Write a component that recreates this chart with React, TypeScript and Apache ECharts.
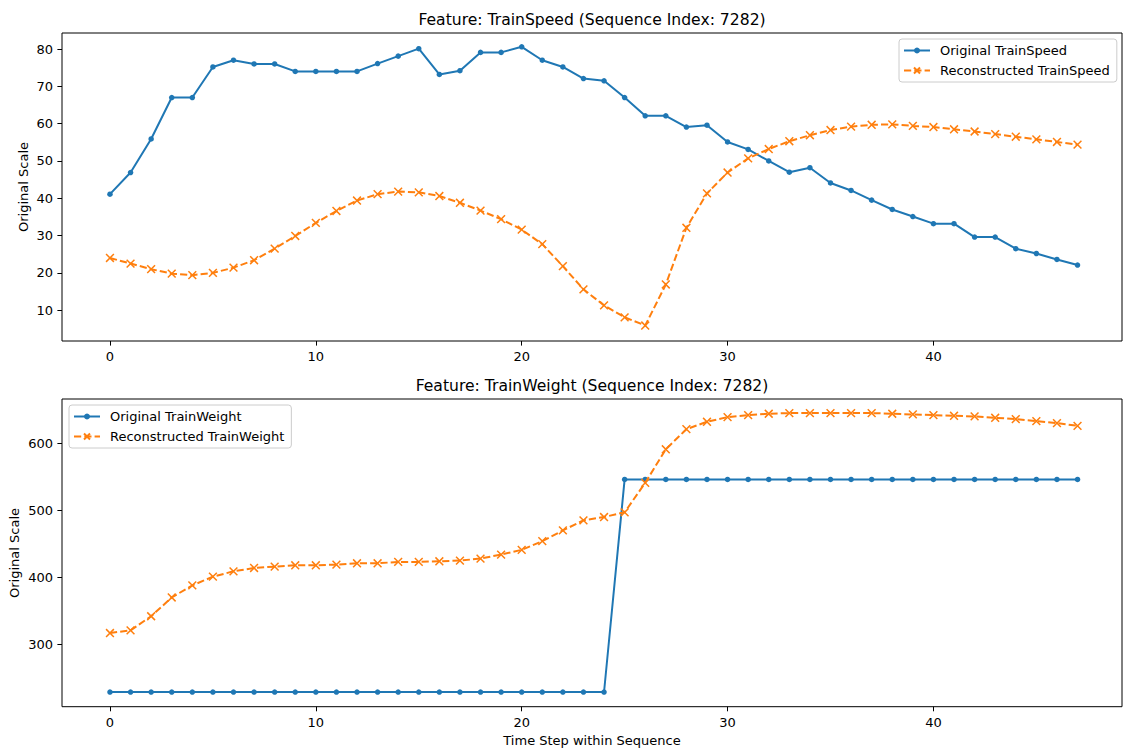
import React, { useEffect, useRef } from "react";
import * as echarts from "echarts";

const BLUE = "#1f77b4";
const ORANGE = "#ff7f0e";
const FONT = "DejaVu Sans";

const timeSteps = [
  0, 1, 2, 3, 4, 5, 6, 7, 8, 9, 10, 11, 12, 13, 14, 15, 16, 17, 18, 19, 20, 21, 22, 23,
  24, 25, 26, 27, 28, 29, 30, 31, 32, 33, 34, 35, 36, 37, 38, 39, 40, 41, 42, 43, 44, 45, 46, 47,
];

const speedOriginal = [
  41.1, 46.9, 55.9, 67, 67, 75.2, 77, 76, 76, 74,
  74, 74, 74, 76.1, 78.1, 80.1, 73.2, 74.2, 79.1, 79.1,
  80.6, 77, 75.2, 72.1, 71.5, 67, 62.1, 62.1, 59.1, 59.6,
  55.1, 53.1, 50, 47, 48.2, 44.1, 42.1, 39.5, 37, 35.1,
  33.2, 33.2, 29.6, 29.6, 26.5, 25.2, 23.6, 22.1,
];

const speedReconstructed = [
  24, 22.5, 21, 19.8, 19.4, 20, 21.4, 23.4, 26.5, 29.9,
  33.4, 36.6, 39.4, 41.1, 41.8, 41.6, 40.6, 38.8, 36.7, 34.4,
  31.6, 27.7, 21.8, 15.6, 11.3, 8.1, 5.9, 16.9, 32.1, 41.3,
  46.9, 50.7, 53.2, 55.3, 56.9, 58.3, 59.2, 59.7, 59.8, 59.4,
  59.1, 58.5, 57.9, 57.2, 56.5, 55.8, 55.1, 54.4,
];

const weightOriginal = [
  229, 229, 229, 229, 229, 229, 229, 229, 229, 229,
  229, 229, 229, 229, 229, 229, 229, 229, 229, 229,
  229, 229, 229, 229, 229, 546, 546, 546, 546, 546,
  546, 546, 546, 546, 546, 546, 546, 546, 546, 546,
  546, 546, 546, 546, 546, 546, 546, 546,
];

const weightReconstructed = [
  317, 321, 342, 370, 388, 401, 409, 414, 416, 418,
  418, 419, 421, 421, 423, 423, 424, 425, 428, 434,
  441, 454, 470, 485, 490, 497, 541, 591, 621, 632,
  639, 642, 644, 645, 645, 645, 645, 645, 644, 643,
  642, 641, 640, 638, 636, 633, 630, 626,
];

const xTicks = [0, 10, 20, 30, 40];
const speedTicks = [10, 20, 30, 40, 50, 60, 70, 80];
const weightTicks = [300, 400, 500, 600];

const titles = [
  "Feature: TrainSpeed (Sequence Index: 7282)",
  "Feature: TrainWeight (Sequence Index: 7282)",
];
const yName = "Original Scale";
const xName = "Time Step within Sequence";

const pairs = (vals: number[]) => vals.map((v, i) => [timeSteps[i], v]);

const X_SYMBOL = "path://M0,0L10,10M10,0L0,10";

function makeX(gridIndex: number) {
  return {
    type: "value",
    gridIndex,
    min: -2.33,
    max: 49.16,
    splitLine: { show: false },
    axisLine: { show: false, onZero: false },
    axisTick: {
      show: true,
      customValues: xTicks,
      length: 4.6,
      lineStyle: { color: "#000", width: 1 },
    },
    axisLabel: {
      customValues: xTicks,
      margin: 9,
      color: "#000",
      fontSize: 13,
      fontFamily: FONT,
    },
  };
}

function makeY(gridIndex: number, min: number, max: number, ticks: number[]) {
  return {
    type: "value",
    gridIndex,
    min,
    max,
    splitLine: { show: false },
    axisLine: { show: false, onZero: false },
    axisTick: {
      show: true,
      customValues: ticks,
      length: 4.6,
      lineStyle: { color: "#000", width: 1 },
    },
    axisLabel: {
      customValues: ticks,
      margin: 9,
      color: "#000",
      fontSize: 13,
      fontFamily: FONT,
    },
  };
}

function origSeries(name: string, vals: number[], idx: number) {
  return {
    type: "line",
    name,
    xAxisIndex: idx,
    yAxisIndex: idx,
    data: pairs(vals),
    symbol: "circle",
    symbolSize: 5.5,
    showAllSymbol: true,
    lineStyle: { color: BLUE, width: 2 },
    itemStyle: { color: BLUE },
    emphasis: { disabled: true },
    z: 2,
  };
}

function reconSeries(name: string, vals: number[], idx: number) {
  return {
    type: "line",
    name,
    xAxisIndex: idx,
    yAxisIndex: idx,
    data: pairs(vals),
    symbol: X_SYMBOL,
    symbolSize: 7.8,
    showAllSymbol: true,
    lineStyle: { color: ORANGE, width: 2, type: [7.2, 3.1] },
    itemStyle: { color: ORANGE, borderColor: ORANGE, borderWidth: 1.5 },
    emphasis: { disabled: true },
    z: 3,
  };
}

function makeLegend(names: string[], left: number, top: number) {
  return {
    orient: "vertical",
    left,
    top,
    data: names,
    itemWidth: 26,
    itemHeight: 7.5,
    itemGap: 5,
    padding: [4, 7, 4, 4],
    backgroundColor: "rgba(255,255,255,0.8)",
    borderColor: "#cccccc",
    borderWidth: 1,
    borderRadius: 3,
    selectedMode: false,
    textStyle: {
      color: "#000",
      fontSize: 13,
      fontFamily: FONT,
      lineHeight: 15,
      padding: [0, 0, 0, 5],
    },
  };
}

export default function App() {
  const ref = useRef<HTMLDivElement>(null);

  useEffect(() => {
    if (!ref.current) return;
    const chart = echarts.init(ref.current, null, { renderer: "svg" });
    const option = {
      animation: false,
      backgroundColor: "#fff",
      grid: [
        {
          left: 62,
          top: 33,
          width: 1060,
          height: 308,
          show: true,
          borderColor: "#000",
          borderWidth: 1,
          backgroundColor: "transparent",
          outerBoundsMode: "none",
        },
        {
          left: 62,
          top: 399,
          width: 1060,
          height: 307.7,
          show: true,
          borderColor: "#000",
          borderWidth: 1,
          backgroundColor: "transparent",
          outerBoundsMode: "none",
        },
      ],
      xAxis: [makeX(0), makeX(1)],
      yAxis: [
        makeY(0, 1.75, 84.3, speedTicks),
        makeY(1, 207.1, 666, weightTicks),
      ],
      legend: [
        makeLegend(["Original TrainSpeed", "Reconstructed TrainSpeed"], 899, 39),
        makeLegend(["Original TrainWeight", "Reconstructed TrainWeight"], 69, 405),
      ],
      series: [
        origSeries("Original TrainSpeed", speedOriginal, 0),
        reconSeries("Reconstructed TrainSpeed", speedReconstructed, 0),
        origSeries("Original TrainWeight", weightOriginal, 1),
        reconSeries("Reconstructed TrainWeight", weightReconstructed, 1),
      ],
      graphic: [
        {
          type: "text",
          x: 592,
          y: 19.5,
          style: {
            text: titles[0],
            fontSize: 15.6,
            fontFamily: FONT,
            fill: "#000",
            textAlign: "center",
            textVerticalAlign: "middle",
          },
        },
        {
          type: "text",
          x: 592,
          y: 385.5,
          style: {
            text: titles[1],
            fontSize: 15.6,
            fontFamily: FONT,
            fill: "#000",
            textAlign: "center",
            textVerticalAlign: "middle",
          },
        },
        {
          type: "text",
          x: 23,
          y: 187,
          rotation: Math.PI / 2,
          style: {
            text: yName,
            fontSize: 13,
            fontFamily: FONT,
            fill: "#000",
            textAlign: "center",
            textVerticalAlign: "middle",
          },
        },
        {
          type: "text",
          x: 14.5,
          y: 553,
          rotation: Math.PI / 2,
          style: {
            text: yName,
            fontSize: 13,
            fontFamily: FONT,
            fill: "#000",
            textAlign: "center",
            textVerticalAlign: "middle",
          },
        },
        {
          type: "text",
          x: 592,
          y: 740,
          style: {
            text: xName,
            fontSize: 13,
            fontFamily: FONT,
            fill: "#000",
            textAlign: "center",
            textVerticalAlign: "middle",
          },
        },
      ],
    };
    chart.setOption(option as any);
    return () => chart.dispose();
  }, []);

  return (
    <div
      ref={ref}
      style={{ position: "absolute", left: 0, top: 0, width: 1123, height: 749 }}
    />
  );
}
